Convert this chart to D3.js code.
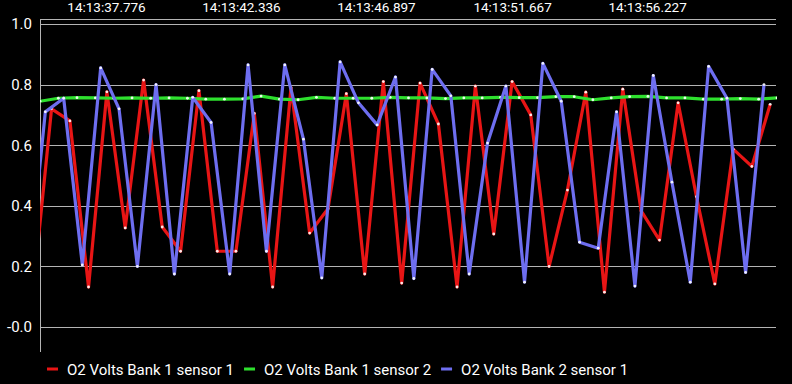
<!DOCTYPE html>
<html>
<head>
<meta charset="utf-8">
<script src="https://cdn.jsdelivr.net/npm/d3@7/dist/d3.min.js"></script>
<style>
html,body{margin:0;padding:0;background:#000;}
svg{display:block;font-family:Roboto,"Noto Sans",sans-serif;}
</style>
</head>
<body>
<svg id="chart" width="792" height="384"></svg>
<script>
// ---- data (x in seconds since chart start) ----
const seriesNames = ["O2 Volts Bank 1 sensor 1", "O2 Volts Bank 1 sensor 2", "O2 Volts Bank 2 sensor 1"];
const seriesColors = ["#e81515", "#2ee02e", "#6e6ef0"];

const bank1s1Times = [-0.23,0.39,1.01,1.64,2.26,2.88,3.50,4.13,4.75,5.37,5.99,6.62,7.24,7.86,8.48,9.11,9.73,10.35,10.97,11.60,12.22,12.84,13.46,14.09,14.71,15.33,15.95,16.58,17.20,17.82,18.44,19.07,19.69,20.31,20.93,21.56,22.18,22.80,23.42,24.05,24.67];
const bank1s1Values = [0.12,0.72,0.68,0.132,0.776,0.327,0.815,0.33,0.25,0.78,0.25,0.25,0.705,0.132,0.79,0.31,0.39,0.77,0.175,0.81,0.145,0.805,0.67,0.132,0.795,0.307,0.81,0.70,0.20,0.452,0.775,0.115,0.785,0.383,0.287,0.74,0.43,0.142,0.587,0.53,0.735];

const bank1s2Times = [0.00,0.62,1.25,1.87,2.49,3.11,3.74,4.36,4.98,5.60,6.23,6.85,7.47,8.09,8.72,9.34,9.96,10.58,11.21,11.83,12.45,13.07,13.70,14.32,14.94,15.56,16.19,16.81,17.43,18.05,18.68,19.30,19.92,20.54,21.17,21.79,22.41,23.03,23.66,24.28,24.90];
const bank1s2Values = [0.745,0.755,0.757,0.756,0.755,0.756,0.755,0.756,0.755,0.752,0.752,0.753,0.762,0.752,0.750,0.758,0.755,0.755,0.755,0.758,0.756,0.756,0.754,0.756,0.756,0.758,0.757,0.757,0.760,0.760,0.750,0.756,0.760,0.761,0.756,0.756,0.752,0.752,0.754,0.752,0.756];

const bank2s1Times = [-0.44,0.18,0.80,1.43,2.05,2.67,3.29,3.92,4.54,5.16,5.78,6.41,7.03,7.65,8.27,8.90,9.52,10.14,10.76,11.39,12.01,12.63,13.25,13.88,14.50,15.12,15.74,16.37,16.99,17.61,18.23,18.86,19.48,20.10,20.72,21.35,21.97,22.59,23.21,23.84,24.46];
const bank2s1Values = [0.11,0.71,0.755,0.205,0.855,0.72,0.20,0.80,0.175,0.758,0.675,0.175,0.865,0.25,0.865,0.62,0.162,0.875,0.74,0.667,0.825,0.16,0.85,0.763,0.175,0.607,0.795,0.148,0.87,0.745,0.28,0.26,0.71,0.135,0.83,0.478,0.148,0.86,0.755,0.18,0.80];

const xTickPositions = [2.23, 6.79, 11.35, 15.95, 20.51];
const xTickLabels = ["14:13:37.776", "14:13:42.336", "14:13:46.897", "14:13:51.667", "14:13:56.227"];
const yTickValues = [0, 0.2, 0.4, 0.6, 0.8, 1.0];
const yTickLabels = ["-0.0", "0.2", "0.4", "0.6", "0.8", "1.0"];

// ---- layout ----
const svg = d3.select("#chart");
const L = 40, R = 777, T = 19, B = 352;
const x = d3.scaleLinear().domain([0, 24.9]).range([L, R]);
const y = d3.scaleLinear().domain([0, 1]).range([327, 24]);

svg.append("rect").attr("width", 792).attr("height", 384).attr("fill", "#000");

svg.append("defs").append("clipPath").attr("id", "clip")
  .append("rect").attr("x", L).attr("y", T).attr("width", R - L).attr("height", B - T);

// grid + y labels
const yAxis = d3.axisLeft(y).tickValues(yTickValues)
  .tickFormat((d, i) => yTickLabels[i]).tickSize(-(R - 1 - L)).tickPadding(8);
const gy = svg.append("g").attr("transform", `translate(${L},0)`).call(yAxis);
gy.select(".domain").remove();
gy.selectAll(".tick line").attr("stroke", "#b4b4b4").attr("stroke-width", 1).attr("shape-rendering", "crispEdges");
gy.selectAll(".tick text").attr("fill", "#fff").attr("font-size", 15).attr("font-family", "Roboto");

// top axis labels
const xAxis = d3.axisTop(x).tickValues(xTickPositions)
  .tickFormat((d, i) => xTickLabels[i]).tickSize(0).tickPadding(7);
const gx = svg.append("g").attr("transform", `translate(0,${T})`).call(xAxis);
gx.select(".domain").remove();
gx.selectAll(".tick text").attr("fill", "#fff").attr("font-size", 13.5).attr("font-family", "Roboto");

// axis lines
svg.append("line").attr("x1", L).attr("x2", R - 1).attr("y1", T).attr("y2", T)
  .attr("stroke", "#b4b4b4").attr("shape-rendering", "crispEdges");
svg.append("line").attr("x1", L).attr("x2", L).attr("y1", T).attr("y2", B)
  .attr("stroke", "#b4b4b4").attr("shape-rendering", "crispEdges");

// series
const series = [
  {times: bank1s1Times, values: bank1s1Values},
  {times: bank1s2Times, values: bank1s2Values},
  {times: bank2s1Times, values: bank2s1Values}
];
const line = d3.line().x(d => x(d[0])).y(d => y(d[1]));
const plot = svg.append("g").attr("clip-path", "url(#clip)");
series.forEach((s, si) => {
  const pts = s.times.map((t, i) => [t, s.values[i]]);
  plot.append("path").datum(pts).attr("d", line)
    .attr("fill", "none").attr("stroke", seriesColors[si])
    .attr("stroke-width", 3.2).attr("stroke-linejoin", "round");
  plot.selectAll(null).data(pts).enter().append("circle")
    .attr("cx", d => x(d[0])).attr("cy", d => y(d[1])).attr("r", 1.4)
    .attr("fill", "#fff").attr("opacity", 0.9);
});

// legend
const lg = svg.append("g").attr("transform", "translate(47,369)");
let cx = 0;
seriesNames.forEach((name, i) => {
  lg.append("line").attr("x1", cx).attr("x2", cx + 11).attr("y1", 0).attr("y2", 0)
    .attr("stroke", seriesColors[i]).attr("stroke-width", 3);
  const t = lg.append("text").attr("x", cx + 20).attr("y", 5.5)
    .attr("fill", "#fff").attr("font-size", 15).attr("font-family", "Roboto").text(name);
  cx += 20 + t.node().getComputedTextLength() + 10;
});
</script>
</body>
</html>
